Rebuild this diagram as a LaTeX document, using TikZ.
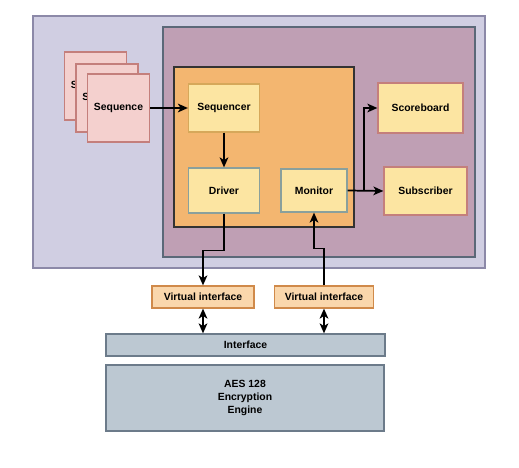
\documentclass[tikz,border=0pt]{standalone}
\usepackage{fontspec}
\setmainfont{Liberation Sans}
\usepackage{xcolor}
\usepackage{tikz}
\usetikzlibrary{shapes.geometric, positioning, arrows.meta}
\definecolor{envfill}{HTML}{D0CEE2}
\definecolor{envline}{HTML}{8C89A8}
\definecolor{agentfill}{HTML}{BF9FB4}
\definecolor{agentline}{HTML}{5B6878}
\definecolor{corefill}{HTML}{F3B670}
\definecolor{blockfill}{HTML}{FCE5A2}
\definecolor{gold}{HTML}{D6A85A}
\definecolor{slate}{HTML}{8AA09C}
\definecolor{seqfill}{HTML}{F4D0CE}
\definecolor{seqline}{HTML}{C47F7C}
\definecolor{vifill}{HTML}{FAD7AC}
\definecolor{viline}{HTML}{D08A4A}
\definecolor{hwfill}{HTML}{BCC8D2}
\definecolor{hwline}{HTML}{6C7B8A}
\tikzstyle{container} = [rectangle, inner sep=0pt, line width=0.9pt]
\tikzstyle{process} = [rectangle, inner sep=0pt, text centered, draw, line width=0.9pt, fill=blockfill, font=\fontsize{7.8}{9.4}\selectfont\bfseries]
\tikzstyle{arrow} = [-{Stealth[length=7.5pt, width=6.5pt, inset=2pt]}, line width=1.3pt]
\tikzstyle{twoway} = [{Stealth[length=7.5pt, width=6.5pt, inset=2pt]}-{Stealth[length=7.5pt, width=6.5pt, inset=2pt]}, line width=1.3pt]

\begin{document}
\begin{tikzpicture}[x=0.75pt, y=-0.75pt]
		\useasboundingbox (0,0) rectangle (519,468);
		\node (Env)[container, draw=envline, fill=envfill, minimum width=339pt, minimum height=189pt] at (259,142){};
		\node (Agent)[container, draw=agentline, fill=agentfill, minimum width=234pt, minimum height=172.5pt] at (319,142){};
		\node (Core)[container, draw=black!80, fill=corefill, minimum width=135pt, minimum height=120pt] at (264,147){};
		\node (Seq1)[process, draw=seqline, fill=seqfill, minimum width=46.5pt, minimum height=51pt] at (95.5,86){Sequence};
		\node (Seq2)[process, draw=seqline, fill=seqfill, minimum width=46.5pt, minimum height=51pt] at (107,98){Sequence};
		\node (Seq3)[process, draw=seqline, fill=seqfill, minimum width=46.5pt, minimum height=51pt] at (118.5,108){Sequence};
		\node (Sequencer)[process, draw=gold, minimum width=53.25pt, minimum height=36pt] at (224,108){Sequencer};
		\node (Driver)[process, draw=slate, minimum width=53.25pt, minimum height=33.75pt] at (224,190.5){Driver};
		\node (Monitor)[process, draw=slate, minimum width=49.5pt, minimum height=32.25pt] at (314,190.5){Monitor};
		\node (Scoreboard)[process, draw=seqline, minimum width=63.75pt, minimum height=37.5pt] at (420.5,108){Scoreboard};
		\node (Subscriber)[process, draw=seqline, minimum width=62.25pt, minimum height=36pt] at (425.5,191){Subscriber};
		\node (VIF1)[process, draw=viline, fill=vifill, minimum width=76.5pt, minimum height=16.5pt] at (203,297){Virtual interface};
		\node (VIF2)[process, draw=viline, fill=vifill, minimum width=74.25pt, minimum height=16.5pt] at (324,297){Virtual interface};
		\node (Interface)[process, draw=hwline, fill=hwfill, minimum width=209.25pt, minimum height=16.5pt] at (245.5,345){Interface};
		\node (AES)[process, draw=hwline, fill=hwfill, minimum width=208.5pt, minimum height=49.5pt, align=center] at (245,398){AES 128\\Encryption\\Engine};
		\coordinate (Split) at (364,190.5);
		\draw [arrow] (Seq3) -- (Sequencer);
		\draw [arrow] (Sequencer) -- (Driver);
		\draw [arrow] (Driver.south) -- ++(0,37) -| (VIF1.north);
		\draw [arrow] (VIF2.north) -- ++(0,-37) -| (Monitor.south);
		\draw [arrow] (Monitor.east) -- (Subscriber.west);
		\draw [arrow] (Split) |- (Scoreboard.west);
		\draw [twoway] (VIF1.south) -- (VIF1.south |- Interface.north);
		\draw [twoway] (VIF2.south) -- (VIF2.south |- Interface.north);
	\end{tikzpicture}
\end{document}
